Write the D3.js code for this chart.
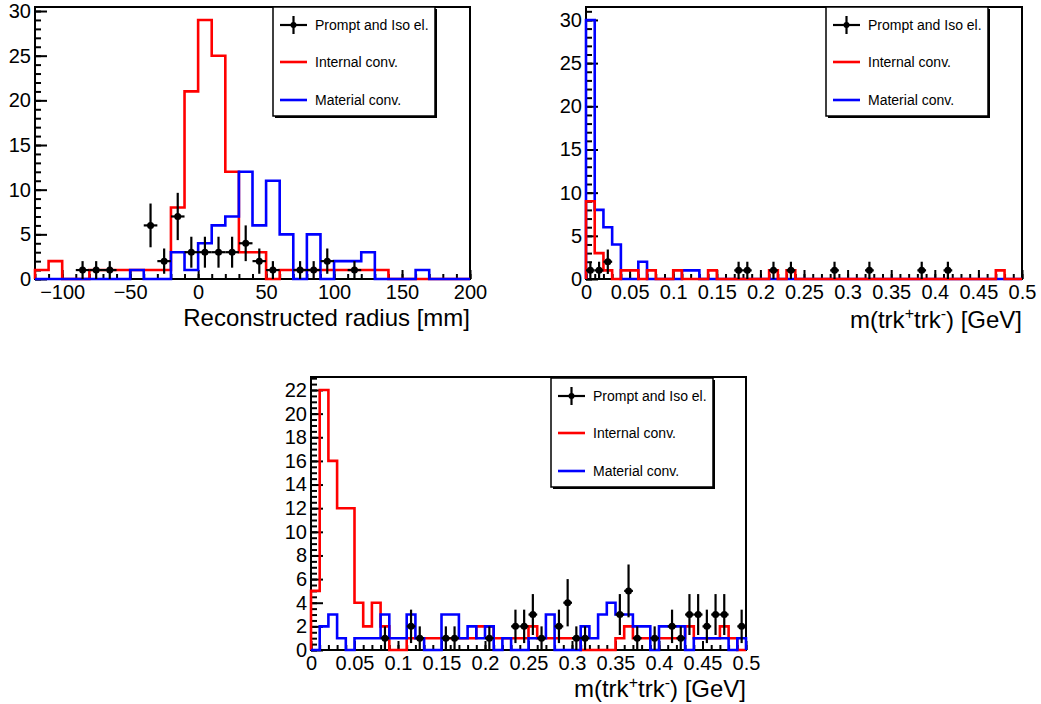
<!DOCTYPE html>
<html>
<head>
<meta charset="utf-8">
<script src="https://cdn.jsdelivr.net/npm/d3@7"></script>
<style>
  body { margin: 0; background: #fff; }
  svg text { font-family: 'Liberation Sans', Arial, Helvetica, sans-serif; fill: #000; }
</style>
</head>
<body>
<svg class="canvas" width="1041" height="704"></svg>
<script>
// ---- data ----
// top left: reconstructed radius, 10 mm bins
const radiusRange = [-120, 200]
const radiusInternal = [1, 2, 0, 0, 1, 1, 1, 1, 1, 1, 8, 21, 29, 25, 12, 3, 3, 0, 1, 1, 1, 1, 1, 1, 1, 1, 0, 0, 0, 0, 0, 0]
const radiusMaterial = [0, 0, 0, 0, 0, 0, 0, 1, 0, 0, 3, 1, 4, 6, 7, 12, 6, 11, 5, 0, 5, 0, 2, 2, 3, 0, 0, 0, 1, 0, 0, 0]
const radiusPrompt = [0, 0, 0, 1, 1, 1, 0, 0, 6, 2, 7, 3, 3, 3, 3, 4, 2, 1, 0, 1, 1, 2, 0, 1, 0, 0, 0, 0, 0, 0, 0, 0]
const radiusXTicks = [-100, -50, 0, 50, 100, 150, 200]
const radiusYTicks = [0, 5, 10, 15, 20, 25, 30]

// top right: pair mass, 0.01 GeV bins
const massRange = [0, 0.5]
const massInternal = [9, 3, 1, 0, 1, 1, 0, 1, 0, 0, 1, 0, 0, 0, 1, 0, 0, 0, 0, 0, 0, 1, 0, 1, 0, 0, 0, 0, 0, 0, 0, 0, 0, 0, 0, 0, 0, 0, 0, 0, 0, 0, 0, 0, 0, 0, 0, 1, 0, 0]
const massMaterial = [30, 8, 6, 4, 0, 0, 2, 0, 0, 0, 0, 1, 1, 0, 0, 0, 0, 0, 0, 0, 0, 0, 0, 0, 0, 0, 0, 0, 0, 0, 0, 0, 0, 0, 0, 0, 0, 0, 0, 0, 0, 0, 0, 0, 0, 0, 0, 0, 0, 0]
const massPrompt = [1, 1, 2, 0, 0, 0, 0, 0, 0, 0, 0, 0, 0, 0, 0, 0, 0, 1, 1, 0, 0, 1, 0, 1, 0, 0, 0, 0, 1, 0, 0, 0, 1, 0, 0, 0, 0, 0, 1, 0, 0, 1, 0, 0, 0, 0, 0, 0, 0, 0]
const massXTicks = [0, 0.05, 0.1, 0.15, 0.2, 0.25, 0.3, 0.35, 0.4, 0.45, 0.5]
const massYTicks = [0, 5, 10, 15, 20, 25, 30]

// bottom: pair mass, second selection
const mass2Internal = [5, 22, 16, 12, 12, 4, 2, 4, 2, 0, 0, 1, 1, 1, 1, 1, 1, 1, 1, 2, 2, 1, 1, 1, 1, 2, 1, 1, 1, 1, 1, 0, 0, 0, 0, 1, 2, 1, 1, 1, 1, 1, 1, 2, 1, 1, 1, 2, 1, 0]
const mass2Material = [0, 2, 3, 1, 0, 1, 1, 1, 3, 1, 1, 3, 1, 0, 0, 3, 3, 1, 2, 1, 2, 0, 1, 0, 0, 1, 1, 3, 0, 0, 0, 2, 1, 3, 4, 3, 3, 2, 2, 0, 2, 2, 2, 0, 1, 1, 1, 1, 0, 1]
const mass2Prompt = [0, 0, 0, 0, 0, 0, 0, 0, 1, 0, 0, 2, 1, 0, 0, 1, 1, 0, 0, 0, 1, 0, 0, 2, 2, 3, 1, 0, 2, 4, 1, 1, 0, 0, 0, 3, 5, 1, 0, 1, 0, 2, 1, 3, 3, 2, 3, 3, 0, 2]
const mass2YTicks = [0, 2, 4, 6, 8, 10, 12, 14, 16, 18, 20, 22]

const legendLabels = ['Prompt and Iso el.', 'Internal conv.', 'Material conv.']

// ---- layout ----
const panels = [
  {
    frame: { left: 35, top: 7, right: 470, bottom: 279 },
    range: radiusRange, internal: radiusInternal, material: radiusMaterial, prompt: radiusPrompt,
    xTicks: radiusXTicks, xMinor: 10, yTicks: radiusYTicks, yMinor: 1,
    title: [{ t: 'Reconstructed radius [mm]' }], titleY: 326,
    legend: { x: 273, y: 7 }, redOnTop: false
  },
  {
    frame: { left: 586, top: 7, right: 1022, bottom: 279 },
    range: massRange, internal: massInternal, material: massMaterial, prompt: massPrompt,
    xTicks: massXTicks, xMinor: 0.01, yTicks: massYTicks, yMinor: 1,
    title: null, titleY: 328,
    legend: { x: 826, y: 7 }, redOnTop: true
  },
  {
    frame: { left: 311, top: 377, right: 746, bottom: 650 },
    range: massRange, internal: mass2Internal, material: mass2Material, prompt: mass2Prompt,
    xTicks: massXTicks, xMinor: 0.01, yTicks: mass2YTicks, yMinor: 0.5,
    title: null, titleY: 697,
    legend: { x: 551, y: 378 }, redOnTop: false
  }
]

const RED = '#ff0000'
const BLUE = '#0000ff'
const svg = d3.select('.canvas')

/**
 * Turns bin contents into the points of a step outline.
 *
 * @param {number[]} values Bin contents
 * @param {number[]} range Low and high edge of the axis
 * @returns {number[][]} Points in data units
 */
function stepPoints (values, range) {
  const w = (range[1] - range[0]) / values.length
  const pts = [[range[0], 0]]
  values.forEach((v, i) => {
    pts.push([range[0] + i * w, v])
    pts.push([range[0] + (i + 1) * w, v])
  })
  pts.push([range[1], 0])
  return pts
}

/**
 * Draws the axes (inward ticks, ROOT style) and the frame of a panel.
 */
function drawAxes (g, p, x, y) {
  const f = p.frame
  const fmt = d3.format('~g')
  const xMinor = d3.range(p.range[0], p.range[1] + p.xMinor / 2, p.xMinor)
  const yMinor = d3.range(0, y.domain()[1], p.yMinor)

  g.append('g').attr('class', 'x minor')
    .attr('transform', `translate(0,${f.bottom})`)
    .call(d3.axisBottom(x).tickValues(xMinor).tickSize(-5).tickFormat(''))
  g.append('g').attr('class', 'x axis')
    .attr('transform', `translate(0,${f.bottom})`)
    .call(d3.axisBottom(x).tickValues(p.xTicks).tickSize(-9).tickPadding(6).tickFormat(fmt))

  g.append('g').attr('class', 'y minor')
    .attr('transform', `translate(${f.left},0)`)
    .call(d3.axisLeft(y).tickValues(yMinor).tickSize(-6).tickFormat(''))
  g.append('g').attr('class', 'y axis')
    .attr('transform', `translate(${f.left},0)`)
    .call(d3.axisLeft(y).tickValues(p.yTicks).tickSize(-12).tickPadding(4).tickFormat(fmt))

  g.selectAll('.domain').remove()
  g.selectAll('.tick line').attr('stroke', '#000').attr('stroke-width', 2)
  g.selectAll('.tick text').style('font-size', '20px').attr('fill', '#000')

  g.append('rect')
    .attr('x', f.left).attr('y', f.top)
    .attr('width', f.right - f.left).attr('height', f.bottom - f.top)
    .attr('fill', 'none').attr('stroke', '#000').attr('stroke-width', 2)
}

/**
 * Draws one histogram outline.
 */
function drawHist (g, values, range, x, y, color) {
  const line = d3.line().x(d => x(d[0])).y(d => y(d[1]))
  g.append('path')
    .attr('d', line(stepPoints(values, range)))
    .attr('fill', 'none')
    .attr('stroke', color)
    .attr('stroke-width', 2.6)
}

/**
 * Draws the data points with sqrt(n) error bars.
 */
function drawPoints (g, values, range, x, y) {
  const w = (range[1] - range[0]) / values.length
  const pts = values.map((v, i) => ({ lo: range[0] + i * w, hi: range[0] + (i + 1) * w, v }))
    .filter(d => d.v > 0)
  const grp = g.selectAll('.pt').data(pts).enter().append('g').attr('class', 'pt')
  grp.append('line')
    .attr('x1', d => x((d.lo + d.hi) / 2)).attr('x2', d => x((d.lo + d.hi) / 2))
    .attr('y1', d => y(d.v - Math.sqrt(d.v))).attr('y2', d => y(d.v + Math.sqrt(d.v)))
    .attr('stroke', '#000').attr('stroke-width', 2.2)
  grp.append('line')
    .attr('x1', d => x(d.lo)).attr('x2', d => x(d.hi))
    .attr('y1', d => y(d.v)).attr('y2', d => y(d.v))
    .attr('stroke', '#000').attr('stroke-width', 2.2)
  grp.append('circle')
    .attr('cx', d => x((d.lo + d.hi) / 2)).attr('cy', d => y(d.v))
    .attr('r', 3.5).attr('fill', '#000')
}

/**
 * Draws the legend box with its shadow.
 */
function drawLegend (g, pos) {
  const w = 162
  const h = 109
  g.append('rect').attr('x', pos.x + 2).attr('y', pos.y + 2)
    .attr('width', w).attr('height', h).attr('fill', '#000')
  g.append('rect').attr('x', pos.x).attr('y', pos.y)
    .attr('width', w).attr('height', h)
    .attr('fill', '#fff').attr('stroke', '#000').attr('stroke-width', 1.5)

  const rows = [18, 55, 93]
  const colors = ['#000', RED, BLUE]
  legendLabels.forEach((label, i) => {
    const cy = pos.y + rows[i]
    g.append('line')
      .attr('x1', pos.x + 7).attr('x2', pos.x + 34)
      .attr('y1', cy).attr('y2', cy)
      .attr('stroke', colors[i]).attr('stroke-width', i === 0 ? 2.2 : 2.6)
    if (i === 0) {
      g.append('line')
        .attr('x1', pos.x + 20.5).attr('x2', pos.x + 20.5)
        .attr('y1', cy - 9).attr('y2', cy + 9)
        .attr('stroke', '#000').attr('stroke-width', 2.2)
      g.append('circle').attr('cx', pos.x + 20.5).attr('cy', cy).attr('r', 3).attr('fill', '#000')
    }
    g.append('text')
      .attr('x', pos.x + 42).attr('y', cy + 5)
      .style('font-size', '14px')
      .text(label)
  })
}

/**
 * Writes the x axis title, right aligned to the frame.
 */
function drawTitle (g, p) {
  const t = g.append('text')
    .attr('x', p.frame.right).attr('y', p.titleY)
    .attr('text-anchor', 'end')
    .style('font-size', '24px')
  if (p.title) {
    t.text(p.title[0].t)
    return
  }
  t.append('tspan').text('m(trk')
  t.append('tspan').attr('dy', -9).style('font-size', '16px').text('+')
  t.append('tspan').attr('dy', 9).text('trk')
  t.append('tspan').attr('dy', -9).style('font-size', '16px').text('-')
  t.append('tspan').attr('dy', 9).text(') [GeV]')
}

panels.forEach(p => {
  const g = svg.append('g')
  const f = p.frame
  const yMax = 1.05 * d3.max([...p.internal, ...p.material])
  const x = d3.scaleLinear().domain(p.range).range([f.left, f.right])
  const y = d3.scaleLinear().domain([0, yMax]).range([f.bottom, f.top])

  drawAxes(g, p, x, y)
  if (p.redOnTop) {
    drawHist(g, p.material, p.range, x, y, BLUE)
    drawHist(g, p.internal, p.range, x, y, RED)
  } else {
    drawHist(g, p.internal, p.range, x, y, RED)
    drawHist(g, p.material, p.range, x, y, BLUE)
  }
  drawPoints(g, p.prompt, p.range, x, y)
  drawLegend(g, p.legend)
  drawTitle(g, p)
})
</script>
</body>
</html>
